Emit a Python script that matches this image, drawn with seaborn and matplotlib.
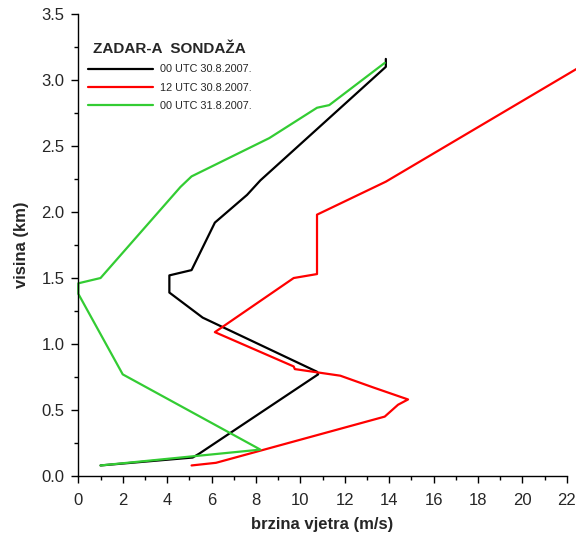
import numpy as np
import pandas as pd
import matplotlib
matplotlib.use("Agg")
import matplotlib.pyplot as plt
import seaborn as sns
from matplotlib.ticker import MultipleLocator

# podaci ocitani sa slike (brzina m/s, visina km)
labels = ['00 UTC 30.8.2007.', '12 UTC 30.8.2007.', '00 UTC 31.8.2007.']
colors = ['black', '#ff0000', '#33cc33']

brzina_00_30 = [1.0, 5.15, 5.45, 10.8, 10.75, 5.6, 4.1, 4.1, 5.1, 6.15, 7.6, 8.2, 13.85, 13.85]
visina_00_30 = [0.08, 0.14, 0.17, 0.77, 0.79, 1.2, 1.39, 1.52, 1.56, 1.92, 2.13, 2.24, 3.10, 3.16]

brzina_12_30 = [5.1, 6.2, 13.8, 14.4, 14.85, 13.3, 11.8, 9.75, 9.7, 6.15, 9.7, 10.75, 10.75, 13.85, 22.8]
visina_12_30 = [0.08, 0.10, 0.45, 0.54, 0.58, 0.67, 0.76, 0.81, 0.83, 1.09, 1.50, 1.53, 1.98, 2.23, 3.12]

brzina_00_31 = [1.0, 8.2, 2.0, 0.0, 0.0, 1.0, 4.6, 5.1, 8.6, 10.75, 11.3, 13.8]
visina_00_31 = [0.08, 0.20, 0.77, 1.38, 1.46, 1.50, 2.19, 2.27, 2.56, 2.79, 2.81, 3.13]

series = [(brzina_00_30, visina_00_30), (brzina_12_30, visina_12_30), (brzina_00_31, visina_00_31)]
rows = []
for lab, (xs, ys) in zip(labels, series):
    for x, y in zip(xs, ys):
        rows.append({'sondaza': lab, 'brzina': x, 'visina': y})
df = pd.DataFrame(rows)

sns.set_style('ticks')
plt.rcParams['font.family'] = ['Liberation Sans', 'DejaVu Sans']

fig = plt.figure(figsize=(5.76, 5.4), dpi=100)
ax = fig.add_axes([0.136, 0.1185, 0.848, 0.8555])

sns.lineplot(data=df, x='brzina', y='visina', hue='sondaza', units='sondaza',
             estimator=None, sort=False, palette=colors, hue_order=labels,
             linewidth=1.6, ax=ax)
for line in ax.lines:
    line.set_clip_on(False)

ax.set_xlim(0, 22)
ax.set_ylim(0, 3.5)
ax.xaxis.set_major_locator(MultipleLocator(2))
ax.xaxis.set_minor_locator(MultipleLocator(1))
ax.yaxis.set_major_locator(MultipleLocator(0.5))
ax.yaxis.set_minor_locator(MultipleLocator(0.25))
ax.yaxis.set_major_formatter(matplotlib.ticker.FormatStrFormatter('%.1f'))
ax.tick_params(which='major', length=5, width=1, labelsize=12, color='black', direction='out')
ax.tick_params(axis='x', which='major', pad=7)
ax.tick_params(axis='y', which='major', pad=5)
ax.tick_params(which='minor', length=3, width=1, color='black', direction='out')
sns.despine(ax=ax)
for s in ['left', 'bottom']:
    ax.spines[s].set_color('black')
    ax.spines[s].set_linewidth(1)

ax.set_xlabel('brzina vjetra (m/s)', fontsize=12, fontweight='bold', labelpad=7)
ax.set_ylabel('visina (km)', fontsize=12, fontweight='bold', labelpad=9)

leg = ax.legend(title='ZADAR-A  SONDAŽA', loc='upper left', bbox_to_anchor=(0.0, 0.96),
                frameon=False, fontsize=7.8, handlelength=6.0, handletextpad=0.6,
                labelspacing=0.75, title_fontproperties={'weight': 'bold', 'size': 11})
for h in leg.get_lines():
    h.set_linewidth(1.6)

fig.savefig('out.png', dpi=100)
